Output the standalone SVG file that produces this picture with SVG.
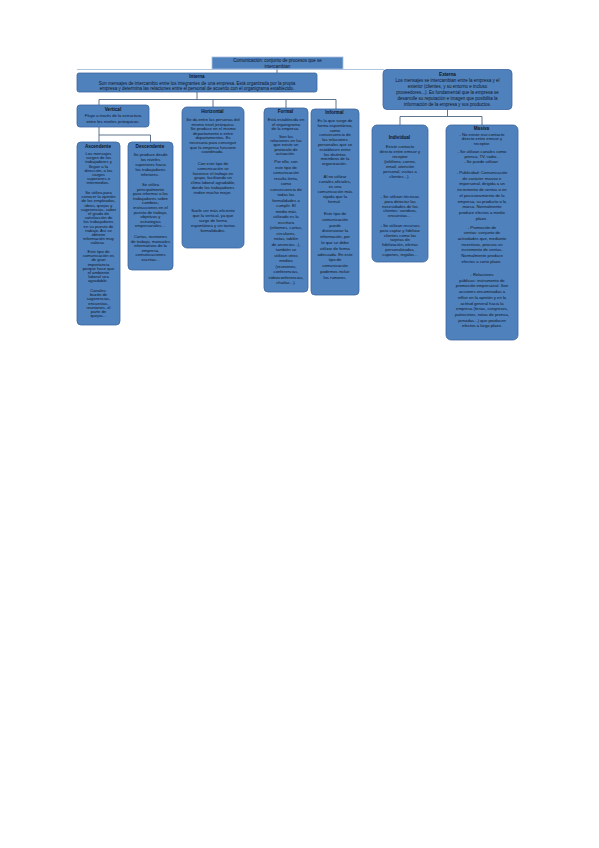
<svg xmlns="http://www.w3.org/2000/svg" width="599" height="848" viewBox="0 0 599 848">
<style>
.box{fill:#4F81BD;stroke:#3A66A0;stroke-width:0.8}
.ttl{fill:#4F81BD;stroke:#A9C0E0;stroke-width:0.8}
.c{fill:none;stroke:#4F6481;stroke-width:0.9}
.lc{fill:none;stroke:#A9BEDB;stroke-width:0.9}
text{font-family:"Liberation Sans",Arial,sans-serif;font-size:4.2px;fill:#0E1626;text-anchor:middle}
.h{font-weight:bold;font-size:4.6px}
.m{font-size:4.5px}
</style>
<rect x="0" y="0" width="599" height="848" fill="#FFFFFF"/>
<g id="connectors">
<path class="lc" d="M77 69.5 H384"/>
<path class="c" d="M277 69 V73"/>
<path class="c" d="M197 92 V99.5 M99 99.5 H336 M99 99.5 V105 M213 99.5 V107 M286 99.5 V108 M336 99.5 V109"/>
<path class="c" d="M99 127 V135 H150.5 V142 M99 135 V142"/>
<path class="c" d="M447.5 109.5 V116.5 M400 116.5 H482 M400 116.5 V125 M482 116.5 V125"/>
</g>
<g id="title">
<rect class="ttl" x="212" y="57" width="131" height="12"/>
<text class="m" x="277.5"><tspan x="277.5" y="62.3">Comunicación: conjunto de procesos que se</tspan><tspan x="277.5" y="67.6">intercambian</tspan></text>
</g>
<g id="interna">
<rect class="box" x="77" y="73" width="240" height="19" rx="2"/>
<text x="197"><tspan class="h" x="197" y="78.2">Interna</tspan><tspan class="m" x="197" y="84.5">Son mensajes de intercambio entre los integrantes de una empresa. Está organizada por la propia</tspan><tspan class="m" x="197" y="89.8">empresa y determina las relaciones entre el personal de acuerdo con el organigrama establecido.</tspan></text>
</g>
<g id="externa">
<rect class="box" x="383" y="69.5" width="129" height="40" rx="4"/>
<text x="447.5"><tspan class="h" x="447.5" y="75.5">Externa</tspan><tspan class="m" x="447.5" y="81.5">Los mensajes se intercambian entre la empresa y el</tspan><tspan class="m" x="447.5" y="87.7">exterior (clientes, y su entorno e incluso</tspan><tspan class="m" x="447.5" y="94">proveedores...). Es fundamental que la empresa se</tspan><tspan class="m" x="447.5" y="100.2">desarrolle su reputación e imagen que posibilita la</tspan><tspan class="m" x="447.5" y="106.4">información de la empresa y sus productos.</tspan></text>
</g>
<g id="vertical">
<rect class="box" x="77" y="105" width="72" height="22" rx="3"/>
<text x="113"><tspan class="h" x="113" y="111">Vertical</tspan><tspan x="113" y="117">Fluye a través de la estructura</tspan><tspan x="113" y="122.5">entre los niveles jerárquicos.</tspan></text>
</g>
<g id="ascendente">
<rect class="box" x="77" y="142" width="43" height="183" rx="4"/>
<text x="98.5"><tspan class="h" x="98.5" y="148">Ascendente</tspan>
<tspan x="98.5" y="155">Los mensajes</tspan><tspan x="98.5" y="159.2">surgen de los</tspan><tspan x="98.5" y="163.4">trabajadores y</tspan><tspan x="98.5" y="167.6">llegan a la</tspan><tspan x="98.5" y="171.8">dirección, a los</tspan><tspan x="98.5" y="176">cargos</tspan><tspan x="98.5" y="180.2">superiores o</tspan><tspan x="98.5" y="184.4">intermedios.</tspan>
<tspan x="98.5" y="194">Se utiliza para</tspan><tspan x="98.5" y="198.2">conocer la opinión</tspan><tspan x="98.5" y="202.4">de los empleados,</tspan><tspan x="98.5" y="206.6">ideas, quejas y</tspan><tspan x="98.5" y="210.8">sugerencias, saber</tspan><tspan x="98.5" y="215">el grado de</tspan><tspan x="98.5" y="219.2">satisfacción de</tspan><tspan x="98.5" y="223.4">los trabajadores</tspan><tspan x="98.5" y="227.6">en su puesto de</tspan><tspan x="98.5" y="231.8">trabajo. Así se</tspan><tspan x="98.5" y="236">obtiene</tspan><tspan x="98.5" y="240.2">información muy</tspan><tspan x="98.5" y="244.4">valiosa.</tspan>
<tspan x="98.5" y="253">Este tipo de</tspan><tspan x="98.5" y="257.2">comunicación es</tspan><tspan x="98.5" y="261.4">de gran</tspan><tspan x="98.5" y="265.6">importancia</tspan><tspan x="98.5" y="269.8">porque hace que</tspan><tspan x="98.5" y="274">el ambiente</tspan><tspan x="98.5" y="278.2">laboral sea</tspan><tspan x="98.5" y="282.4">agradable.</tspan>
<tspan x="98.5" y="292">Canales:</tspan><tspan x="98.5" y="296.2">buzón de</tspan><tspan x="98.5" y="300.4">sugerencias,</tspan><tspan x="98.5" y="304.6">encuestas,</tspan><tspan x="98.5" y="308.8">reuniones, el</tspan><tspan x="98.5" y="313">parte de</tspan><tspan x="98.5" y="317.2">quejas...</tspan></text>
</g>
<g id="descendente">
<rect class="box" x="128" y="142" width="45" height="128" rx="4"/>
<text x="150.5"><tspan class="h" x="150.5" y="148">Descendente</tspan>
<tspan x="150.5" y="156">Se produce desde</tspan><tspan x="150.5" y="161">los niveles</tspan><tspan x="150.5" y="166">superiores hacia</tspan><tspan x="150.5" y="171">los trabajadores</tspan><tspan x="150.5" y="176">inferiores.</tspan>
<tspan x="150.5" y="186">Se utiliza</tspan><tspan x="150.5" y="190.6">principalmente</tspan><tspan x="150.5" y="195.2">para informar a los</tspan><tspan x="150.5" y="199.8">trabajadores sobre</tspan><tspan x="150.5" y="204.4">cambios,</tspan><tspan x="150.5" y="209">instrucciones en el</tspan><tspan x="150.5" y="213.6">puesto de trabajo,</tspan><tspan x="150.5" y="218.2">objetivos y</tspan><tspan x="150.5" y="222.8">estrategias</tspan><tspan x="150.5" y="227.4">empresariales...</tspan>
<tspan x="150.5" y="238">Cartas, reuniones</tspan><tspan x="150.5" y="242.6">de trabajo, manuales</tspan><tspan x="150.5" y="247.2">informativos de la</tspan><tspan x="150.5" y="251.8">empresa,</tspan><tspan x="150.5" y="256.4">comunicaciones</tspan><tspan x="150.5" y="261">escritas...</tspan></text>
</g>
<g id="horizontal">
<rect class="box" x="182" y="107" width="62" height="141" rx="5"/>
<text x="213"><tspan class="h" x="213" y="113">Horizontal</tspan>
<tspan x="213" y="121">Se da entre las personas del</tspan><tspan x="213" y="125.6">mismo nivel jerárquico.</tspan><tspan x="213" y="130.2">Se produce en el mismo</tspan><tspan x="213" y="134.8">departamento o entre</tspan><tspan x="213" y="139.4">departamentos. Es</tspan><tspan x="213" y="144">necesaria para conseguir</tspan><tspan x="213" y="148.6">que la empresa funcione</tspan><tspan x="213" y="153.2">coordinada.</tspan>
<tspan x="213" y="165">Con este tipo de</tspan><tspan x="213" y="169.8">comunicación se</tspan><tspan x="213" y="174.6">favorece el trabajo en</tspan><tspan x="213" y="179.4">grupo, facilitando un</tspan><tspan x="213" y="184.2">clima laboral agradable,</tspan><tspan x="213" y="189">donde los trabajadores</tspan><tspan x="213" y="193.8">rinden mucho mejor.</tspan>
<tspan x="213" y="212">Suele ser más eficiente</tspan><tspan x="213" y="217">que la vertical, ya que</tspan><tspan x="213" y="222">surge de forma</tspan><tspan x="213" y="227">espontánea y sin tantas</tspan><tspan x="213" y="232">formalidades.</tspan></text>
</g>
<g id="formal">
<rect class="box" x="264" y="108" width="44" height="184" rx="4"/>
<text x="286"><tspan class="h" x="286" y="113">Formal</tspan>
<tspan x="286" y="121">Está establecida en</tspan><tspan x="286" y="125.5">el organigrama</tspan><tspan x="286" y="130">de la empresa.</tspan>
<tspan x="286" y="138">Son las</tspan><tspan x="286" y="142.2">relaciones en las</tspan><tspan x="286" y="146.4">que existe un</tspan><tspan x="286" y="150.6">protocolo de</tspan><tspan x="286" y="154.8">actuación.</tspan>
<tspan x="286" y="163">Por ello, con</tspan><tspan x="286" y="168.5">este tipo de</tspan><tspan x="286" y="174">comunicación</tspan><tspan x="286" y="179.5">resulta lenta,</tspan><tspan x="286" y="185">como</tspan><tspan x="286" y="190.5">consecuencia de</tspan><tspan x="286" y="196">todas las</tspan><tspan x="286" y="201.5">formalidades a</tspan><tspan x="286" y="207">cumplir. El</tspan><tspan x="286" y="212.5">medio más</tspan><tspan x="286" y="218">utilizado es la</tspan><tspan x="286" y="223.5">escritura</tspan><tspan x="286" y="229">(informes, cartas,</tspan><tspan x="286" y="234.5">circulares,</tspan><tspan x="286" y="240">notas, tablón</tspan><tspan x="286" y="245.5">de anuncios...),</tspan><tspan x="286" y="251">también se</tspan><tspan x="286" y="256.5">utilizan otros</tspan><tspan x="286" y="262">medios</tspan><tspan x="286" y="267.5">(reuniones,</tspan><tspan x="286" y="273">conferencias,</tspan><tspan x="286" y="278.5">videoconferencias,</tspan><tspan x="286" y="284">charlas...).</tspan></text>
</g>
<g id="informal">
<rect class="box" x="311" y="109" width="48" height="186" rx="4"/>
<text x="335"><tspan class="h" x="335" y="114">Informal</tspan>
<tspan x="335" y="122">Es la que surge de</tspan><tspan x="335" y="126.8">forma espontánea,</tspan><tspan x="335" y="131.6">como</tspan><tspan x="335" y="136.4">consecuencia de</tspan><tspan x="335" y="141.2">las relaciones</tspan><tspan x="335" y="146">personales que se</tspan><tspan x="335" y="150.8">establecen entre</tspan><tspan x="335" y="155.6">los distintos</tspan><tspan x="335" y="160.4">miembros de la</tspan><tspan x="335" y="165.2">organización.</tspan>
<tspan x="335" y="178">Al no utilizar</tspan><tspan x="335" y="183">canales oficiales,</tspan><tspan x="335" y="188">es una</tspan><tspan x="335" y="193">comunicación más</tspan><tspan x="335" y="198">rápida que la</tspan><tspan x="335" y="203">formal.</tspan>
<tspan x="335" y="215">Este tipo de</tspan><tspan x="335" y="220.8">comunicación</tspan><tspan x="335" y="226.6">puede</tspan><tspan x="335" y="232.4">distorsionar la</tspan><tspan x="335" y="238.2">información, por</tspan><tspan x="335" y="244">lo que se debe</tspan><tspan x="335" y="249.8">utilizar de forma</tspan><tspan x="335" y="255.6">adecuada. En este</tspan><tspan x="335" y="261.4">tipo de</tspan><tspan x="335" y="267.2">comunicación</tspan><tspan x="335" y="273">podemos incluir</tspan><tspan x="335" y="278.8">los rumores.</tspan></text>
</g>
<g id="individual">
<rect class="box" x="372" y="125" width="56" height="137" rx="5"/>
<text x="400"><tspan class="h" x="400" y="139">Individual</tspan>
<tspan x="400" y="148">Existe contacto</tspan><tspan x="400" y="153">directo entre emisor y</tspan><tspan x="400" y="158">receptor</tspan><tspan x="400" y="163">(teléfono, correo,</tspan><tspan x="400" y="168">email, atención</tspan><tspan x="400" y="173">personal, visitas a</tspan><tspan x="400" y="178">clientes...).</tspan>
<tspan x="400" y="198">- Se utilizan técnicas</tspan><tspan x="400" y="202.8">para detectar las</tspan><tspan x="400" y="207.6">necesidades de los</tspan><tspan x="400" y="212.4">clientes: sondeos,</tspan><tspan x="400" y="217.2">encuestas...</tspan>
<tspan x="400" y="227">- Se utilizan recursos</tspan><tspan x="400" y="231.8">para captar y fidelizar</tspan><tspan x="400" y="236.6">clientes como las</tspan><tspan x="400" y="241.4">tarjetas de</tspan><tspan x="400" y="246.2">fidelización, ofertas</tspan><tspan x="400" y="251">personalizadas,</tspan><tspan x="400" y="255.8">cupones, regalos...</tspan></text>
</g>
<g id="masiva">
<rect class="box" x="446" y="125" width="72" height="215" rx="5"/>
<text x="482"><tspan class="h" x="482" y="129.6">Masiva</tspan>
<tspan x="482" y="135.5">- No existe ese contacto</tspan><tspan x="482" y="140.3">directo entre emisor y</tspan><tspan x="482" y="145.3">receptor.</tspan><tspan x="482" y="152.5">- Se utilizan canales como</tspan><tspan x="482" y="157.5">prensa, TV, radio...</tspan><tspan x="482" y="163">- Se puede utilizar:</tspan>
<tspan x="482" y="174">- Publicidad: Comunicación</tspan><tspan x="482" y="179.7">de carácter masivo e</tspan><tspan x="482" y="185.4">impersonal, dirigida a un</tspan><tspan x="482" y="191.1">incremento de ventas o en</tspan><tspan x="482" y="196.8">el posicionamiento de la</tspan><tspan x="482" y="202.5">empresa, su producto o la</tspan><tspan x="482" y="208.2">marca. Normalmente</tspan><tspan x="482" y="213.9">produce efectos a medio</tspan><tspan x="482" y="219.6">plazo.</tspan>
<tspan x="482" y="228.5">- Promoción de</tspan><tspan x="482" y="234.2">ventas: conjunto de</tspan><tspan x="482" y="239.9">actividades que, mediante</tspan><tspan x="482" y="245.6">incentivos, procura un</tspan><tspan x="482" y="251.3">incremento de ventas.</tspan><tspan x="482" y="257">Normalmente produce</tspan><tspan x="482" y="262.7">efectos a corto plazo.</tspan>
<tspan x="482" y="276">- Relaciones</tspan><tspan x="482" y="281.7">públicas: instrumento de</tspan><tspan x="482" y="287.4">promoción empresarial. Son</tspan><tspan x="482" y="293.1">acciones encaminadas a</tspan><tspan x="482" y="298.8">influir en la opinión y en la</tspan><tspan x="482" y="304.5">actitud general hacia la</tspan><tspan x="482" y="310.2">empresa (ferias, congresos,</tspan><tspan x="482" y="315.9">patrocinios, notas de prensa,</tspan><tspan x="482" y="321.6">jornadas...) que producen</tspan><tspan x="482" y="327.3">efectos a largo plazo.</tspan></text>
</g>
</svg>
